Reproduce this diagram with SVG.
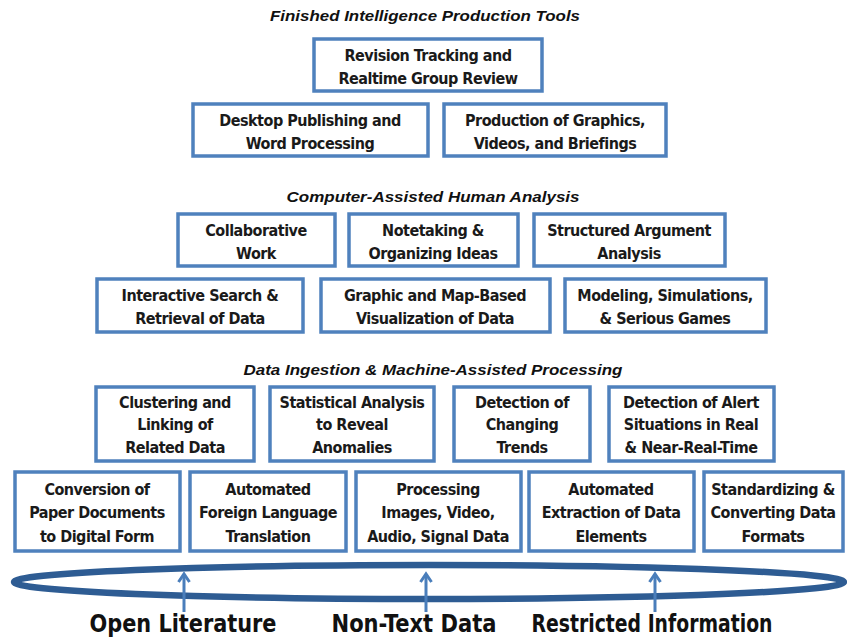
<svg xmlns="http://www.w3.org/2000/svg" width="847" height="638" viewBox="0 0 847 638">
  <style>
    .box rect { fill: #ffffff; stroke: #4f81bd; stroke-width: 3.5; }
    .box text { font-family: "Liberation Sans Narrow", "DejaVu Sans Condensed", "Liberation Sans", sans-serif; font-weight: bold; font-size: 16px; letter-spacing: -0.5px; fill: #1a1a1a; text-anchor: middle; }
    .title { font-family: "Liberation Sans", Arial, sans-serif; font-weight: bold; font-style: italic; font-size: 15px; fill: #111111; text-anchor: middle; }
    .source { font-family: "Liberation Sans Narrow", "DejaVu Sans Condensed", "Liberation Sans", sans-serif; font-weight: bold; font-size: 24px; fill: #111111; text-anchor: middle; }
    .feed { stroke: #4a7ebb; stroke-width: 3; fill: none; }
    .head { stroke: #4a7ebb; stroke-width: 3; fill: none; stroke-linejoin: miter; }
  </style>

  <rect x="0" y="0" width="847" height="638" fill="#ffffff"/>

  <!-- Layer titles -->
  <text class="title" x="425" y="21" textLength="310" lengthAdjust="spacingAndGlyphs">Finished Intelligence Production Tools</text>
  <text class="title" x="433" y="202" textLength="293" lengthAdjust="spacingAndGlyphs">Computer-Assisted Human Analysis</text>
  <text class="title" x="433" y="375" textLength="379" lengthAdjust="spacingAndGlyphs">Data Ingestion &amp; Machine-Assisted Processing</text>

  <!-- Finished intelligence production tools -->
  <g id="revision-tracking" class="box">
    <rect x="314" y="39" width="228" height="52"/>
    <text x="428" y="61">Revision Tracking and</text>
    <text x="428" y="84">Realtime Group Review</text>
  </g>
  <g id="desktop-publishing" class="box">
    <rect x="193" y="104" width="235" height="52"/>
    <text x="310" y="126">Desktop Publishing and</text>
    <text x="310" y="149">Word Processing</text>
  </g>
  <g id="graphics-production" class="box">
    <rect x="444" y="104" width="222" height="52"/>
    <text x="555" y="126">Production of Graphics,</text>
    <text x="555" y="149">Videos, and Briefings</text>
  </g>

  <!-- Computer-assisted human analysis -->
  <g id="collaborative-work" class="box">
    <rect x="178" y="214" width="157" height="52"/>
    <text x="256" y="236">Collaborative</text>
    <text x="256" y="259">Work</text>
  </g>
  <g id="notetaking" class="box">
    <rect x="349" y="214" width="169" height="52"/>
    <text x="433" y="236">Notetaking &amp;</text>
    <text x="433" y="259">Organizing Ideas</text>
  </g>
  <g id="structured-argument" class="box">
    <rect x="534" y="214" width="191" height="52"/>
    <text x="629" y="236">Structured Argument</text>
    <text x="629" y="259">Analysis</text>
  </g>
  <g id="interactive-search" class="box">
    <rect x="97" y="279" width="206" height="53"/>
    <text x="200" y="301">Interactive Search &amp;</text>
    <text x="200" y="324">Retrieval of Data</text>
  </g>
  <g id="map-visualization" class="box">
    <rect x="321" y="279" width="229" height="53"/>
    <text x="435" y="301">Graphic and Map-Based</text>
    <text x="435" y="324">Visualization of Data</text>
  </g>
  <g id="modeling-simulations" class="box">
    <rect x="565" y="279" width="201" height="53"/>
    <text x="665" y="301">Modeling, Simulations,</text>
    <text x="665" y="324">&amp; Serious Games</text>
  </g>

  <!-- Data ingestion and machine-assisted processing -->
  <g id="clustering-linking" class="box">
    <rect x="96" y="387" width="158" height="74"/>
    <text x="175" y="408">Clustering and</text>
    <text x="175" y="430">Linking of</text>
    <text x="175" y="453">Related Data</text>
  </g>
  <g id="statistical-analysis" class="box">
    <rect x="270" y="387" width="164" height="74"/>
    <text x="352" y="408">Statistical Analysis</text>
    <text x="352" y="430">to Reveal</text>
    <text x="352" y="453">Anomalies</text>
  </g>
  <g id="changing-trends" class="box">
    <rect x="454" y="387" width="136" height="74"/>
    <text x="522" y="408">Detection of</text>
    <text x="522" y="430">Changing</text>
    <text x="522" y="453">Trends</text>
  </g>
  <g id="alert-situations" class="box">
    <rect x="609" y="387" width="165" height="74"/>
    <text x="691" y="408">Detection of Alert</text>
    <text x="691" y="430">Situations in Real</text>
    <text x="691" y="453">&amp; Near-Real-Time</text>
  </g>
  <g id="paper-conversion" class="box">
    <rect x="15" y="472" width="165" height="79"/>
    <text x="97" y="495">Conversion of</text>
    <text x="97" y="518">Paper Documents</text>
    <text x="97" y="542">to Digital Form</text>
  </g>
  <g id="language-translation" class="box">
    <rect x="190" y="472" width="156" height="79"/>
    <text x="268" y="495">Automated</text>
    <text x="268" y="518">Foreign Language</text>
    <text x="268" y="542">Translation</text>
  </g>
  <g id="media-processing" class="box">
    <rect x="356" y="472" width="165" height="79"/>
    <text x="438" y="495">Processing</text>
    <text x="438" y="518">Images, Video,</text>
    <text x="438" y="542">Audio, Signal Data</text>
  </g>
  <g id="element-extraction" class="box">
    <rect x="529" y="472" width="165" height="79"/>
    <text x="611" y="495">Automated</text>
    <text x="611" y="518">Extraction of Data</text>
    <text x="611" y="542">Elements</text>
  </g>
  <g id="format-standardizing" class="box">
    <rect x="704" y="472" width="139" height="79"/>
    <text x="773" y="495">Standardizing &amp;</text>
    <text x="773" y="518">Converting Data</text>
    <text x="773" y="542">Formats</text>
  </g>

  <!-- Source pool -->
  <g id="source-pool">
    <ellipse cx="429" cy="582" rx="415" ry="17" fill="none" stroke="#2e5c93" stroke-width="6.5"/>
  </g>

  <!-- Feeds from sources into the pool -->
  <g id="connectors">
    <line class="feed" x1="184" y1="612" x2="184" y2="575"/>
    <polyline class="head" points="178.5,582 184,574 189.5,582"/>
    <line class="feed" x1="426" y1="612" x2="426" y2="575"/>
    <polyline class="head" points="420.5,582 426,574 431.5,582"/>
    <line class="feed" x1="655" y1="612" x2="655" y2="575"/>
    <polyline class="head" points="649.5,582 655,574 660.5,582"/>
  </g>

  <!-- Source labels -->
  <text class="source" x="183" y="632" textLength="187" lengthAdjust="spacingAndGlyphs">Open Literature</text>
  <text class="source" x="414" y="632" textLength="165" lengthAdjust="spacingAndGlyphs">Non-Text Data</text>
  <text class="source" x="652" y="632" textLength="241" lengthAdjust="spacingAndGlyphs">Restricted Information</text>
</svg>
